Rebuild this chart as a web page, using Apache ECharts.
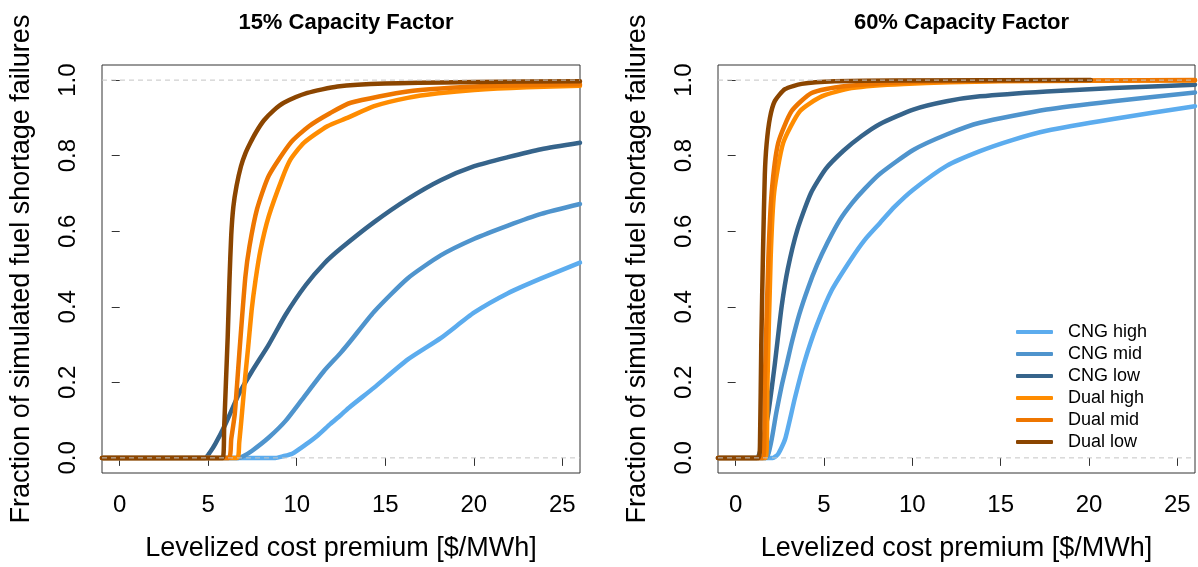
<!DOCTYPE html>
<html>
<head>
<meta charset="utf-8">
<script src="https://cdn.jsdelivr.net/npm/echarts@6/dist/echarts.min.js"></script>
<style>
html,body{margin:0;padding:0;background:#fff;}
#chart{width:1198px;height:567px;}
</style>
</head>
<body>
<div id="chart"></div>
<script>
// ---------- data ----------
const seriesNames = ['CNG high', 'CNG mid', 'CNG low', 'Dual high', 'Dual mid', 'Dual low'];
const seriesColors = ['#5CACEE', '#4F94CD', '#36648B', '#FF8C00', '#EE7600', '#8B4500'];
const panelTitles = ['15% Capacity Factor', '60% Capacity Factor'];
const xTicks = [0, 5, 10, 15, 20, 25];
const yTicks = [0, 0.2, 0.4, 0.6, 0.8, 1.0];
const refLevels = [0, 1];

// 15% capacity factor panel
const cf15_cngHigh = [[-1,0],[8.8,0],[9.2,0.004],[9.74,0.011],[10.5,0.035],[11.2,0.06],[11.9,0.09],[12.48,0.113],[12.95,0.133],[14.37,0.186],[16.26,0.26],[18.13,0.317],[20.03,0.385],[21.93,0.436],[23.81,0.475],[26,0.517]];
const cf15_cngMid = [[-1,0],[6.72,0],[7.0,0.005],[7.48,0.019],[8.42,0.054],[9.37,0.098],[10.31,0.155],[11.54,0.23],[12.48,0.278],[13.05,0.31],[14.37,0.387],[16.26,0.475],[18.13,0.536],[20.03,0.58],[21.93,0.615],[23.81,0.646],[26,0.672]];
const cf15_cngLow = [[-1,0],[4.83,0],[5.1,0.015],[5.4,0.037],[5.97,0.089],[6.72,0.168],[7.48,0.23],[8.42,0.3],[9.37,0.379],[10.5,0.457],[11.54,0.514],[12.48,0.554],[14.37,0.624],[16.26,0.685],[18.13,0.735],[20.03,0.772],[21.93,0.796],[23.81,0.817],[26,0.834]];
const cf15_dualHigh = [[-1,0],[6.63,0],[6.75,0.04],[6.91,0.12],[7.1,0.22],[7.25,0.29],[7.45,0.39],[7.67,0.47],[7.95,0.55],[8.42,0.64],[9.18,0.74],[9.65,0.79],[10.4,0.834],[11.73,0.878],[12.86,0.9],[14.37,0.931],[16.26,0.953],[18,0.965],[20.03,0.974],[23,0.981],[26,0.985]];
const cf15_dualMid = [[-1,0],[6.15,0],[6.3,0.05],[6.5,0.116],[6.78,0.291],[7.1,0.48],[7.33,0.56],[7.76,0.659],[8.42,0.747],[9.65,0.834],[10.69,0.878],[11.9,0.913],[13.05,0.94],[16.26,0.97],[20.03,0.983],[26,0.989]];
const cf15_dualLow = [[-1,0],[5.82,0],[5.9,0.08],[6.0,0.2],[6.1,0.32],[6.2,0.47],[6.3,0.59],[6.42,0.665],[6.6,0.72],[6.85,0.772],[7.1,0.806],[7.38,0.834],[7.7,0.862],[8.14,0.893],[8.7,0.92],[9.27,0.94],[10.6,0.966],[12.3,0.983],[15,0.991],[20,0.995],[26,0.997]];

// 60% capacity factor panel
const cf60_cngHigh = [[-1,0],[2.1,0],[2.4,0.01],[2.8,0.05],[3.36,0.16],[3.9,0.255],[4.6,0.352],[5.45,0.445],[6.56,0.528],[7.32,0.578],[8.17,0.622],[9.0,0.665],[10.05,0.71],[11.94,0.773],[13.83,0.812],[15.7,0.842],[17.6,0.866],[21.37,0.897],[26,0.931]];
const cf60_cngMid = [[-1,0],[1.7,0],[2.0,0.04],[2.3,0.12],[2.6,0.19],[2.9,0.25],[3.2,0.31],[3.6,0.38],[4.1,0.45],[4.6,0.51],[5.2,0.57],[5.9,0.63],[6.6,0.675],[7.3,0.712],[8.17,0.752],[10.05,0.815],[11.94,0.856],[13.83,0.887],[17.6,0.922],[21.37,0.944],[26,0.967]];
const cf60_cngLow = [[-1,0],[1.2,0],[1.4,0.02],[1.6,0.06],[1.85,0.12],[2.22,0.25],[2.6,0.4],[2.95,0.5],[3.5,0.605],[4.25,0.7],[5.1,0.765],[6.1,0.813],[7.13,0.852],[8.17,0.884],[10.05,0.922],[11.94,0.944],[13.83,0.957],[17.6,0.97],[21.37,0.979],[26,0.988]];
const cf60_dualHigh = [[-1,0],[1.7,0],[1.8,0.2],[1.98,0.528],[2.18,0.703],[2.69,0.834],[3.64,0.918],[4.87,0.957],[6.56,0.979],[9.5,0.99],[15,0.997],[26,0.999]];
const cf60_dualMid = [[-1,0],[1.56,0],[1.65,0.2],[1.85,0.528],[2.04,0.703],[2.41,0.834],[3.17,0.918],[4.3,0.966],[6.0,0.983],[10,0.995],[15,0.998],[26,1.0]];
const cf60_dualLow = [[-1,0],[1.3,0],[1.38,0.05],[1.45,0.3],[1.55,0.55],[1.65,0.75],[1.75,0.83],[1.94,0.9],[2.22,0.945],[2.79,0.976],[3.74,0.99],[5.6,0.997],[9,0.999],[20.1,1.0]];

const panelData = [
  [cf15_cngHigh, cf15_cngMid, cf15_cngLow, cf15_dualHigh, cf15_dualMid, cf15_dualLow],
  [cf60_cngHigh, cf60_cngMid, cf60_cngLow, cf60_dualHigh, cf60_dualMid, cf60_dualLow]
];

// ---------- chart ----------
const FONT = 'Liberation Sans, Arial, Helvetica, sans-serif';
const grids = [
  {left: 102, top: 65, width: 478, height: 411},
  {left: 718, top: 65, width: 477, height: 411}
];

const option = {
  backgroundColor: '#ffffff',
  animation: false,
  textStyle: {fontFamily: FONT},
  title: panelTitles.map((t, i) => ({
    text: t,
    left: grids[i].left + grids[i].width / 2,
    top: 7,
    textAlign: 'center',
    textStyle: {fontFamily: FONT, fontSize: 22, fontWeight: 'bold', color: '#000'}
  })),
  legend: {
    data: seriesNames,
    orient: 'vertical',
    left: 1011,
    top: 316,
    itemWidth: 37,
    itemHeight: 4,
    itemGap: 0,
    icon: 'roundRect',
    textStyle: {fontFamily: FONT, fontSize: 18, color: '#000', lineHeight: 22, padding: [0, 0, 0, 10]}
  },
  grid: grids.map(g => Object.assign({}, g, {show: true, borderColor: '#333', borderWidth: 1, containLabel: false})),
  xAxis: grids.map((g, i) => ({
    type: 'value',
    gridIndex: i,
    min: -1,
    max: 26,
    name: 'Levelized cost premium [$/MWh]',
    nameLocation: 'middle',
    nameGap: 62,
    nameTextStyle: {fontFamily: FONT, fontSize: 27, color: '#000'},
    axisLine: {show: false},
    splitLine: {show: false},
    axisTick: {show: true, inside: false, length: 8, customValues: xTicks, lineStyle: {color: '#333'}},
    axisLabel: {customValues: xTicks, margin: 20, fontFamily: FONT, fontSize: 24, color: '#000'}
  })),
  yAxis: grids.map((g, i) => ({
    type: 'value',
    gridIndex: i,
    min: -0.04,
    max: 1.04,
    name: 'Fraction of simulated fuel shortage failures',
    nameLocation: 'middle',
    nameGap: 67,
    nameTextStyle: {fontFamily: FONT, fontSize: 27, color: '#000'},
    axisLine: {show: false},
    splitLine: {show: false},
    axisTick: {show: true, inside: false, length: 8, customValues: yTicks, lineStyle: {color: '#333'}},
    axisLabel: {customValues: yTicks, rotate: 90, margin: 22, fontFamily: FONT, fontSize: 24, color: '#000',
      formatter: v => Number(v).toFixed(1)}
  })),
  series: []
};

panelData.forEach((sets, p) => {
  sets.forEach((d, k) => {
    option.series.push({
      type: 'line',
      name: seriesNames[k],
      xAxisIndex: p,
      yAxisIndex: p,
      data: d,
      showSymbol: false,
      symbol: 'none',
      smooth: 0.2,
      color: seriesColors[k],
      lineStyle: {width: 4.5, color: seriesColors[k], cap: 'round', join: 'round'},
      z: 2
    });
  });
  refLevels.forEach(lv => {
    option.series.push({
      type: 'line',
      name: 'ref',
      xAxisIndex: p,
      yAxisIndex: p,
      data: [[-1, lv], [26, lv]],
      symbol: 'none',
      silent: true,
      lineStyle: {width: 1, color: '#c4c4c4', type: [5, 4]},
      z: 5
    });
  });
});

const chart = echarts.init(document.getElementById('chart'), null, {renderer: 'canvas'});
chart.setOption(option);
</script>
</body>
</html>
